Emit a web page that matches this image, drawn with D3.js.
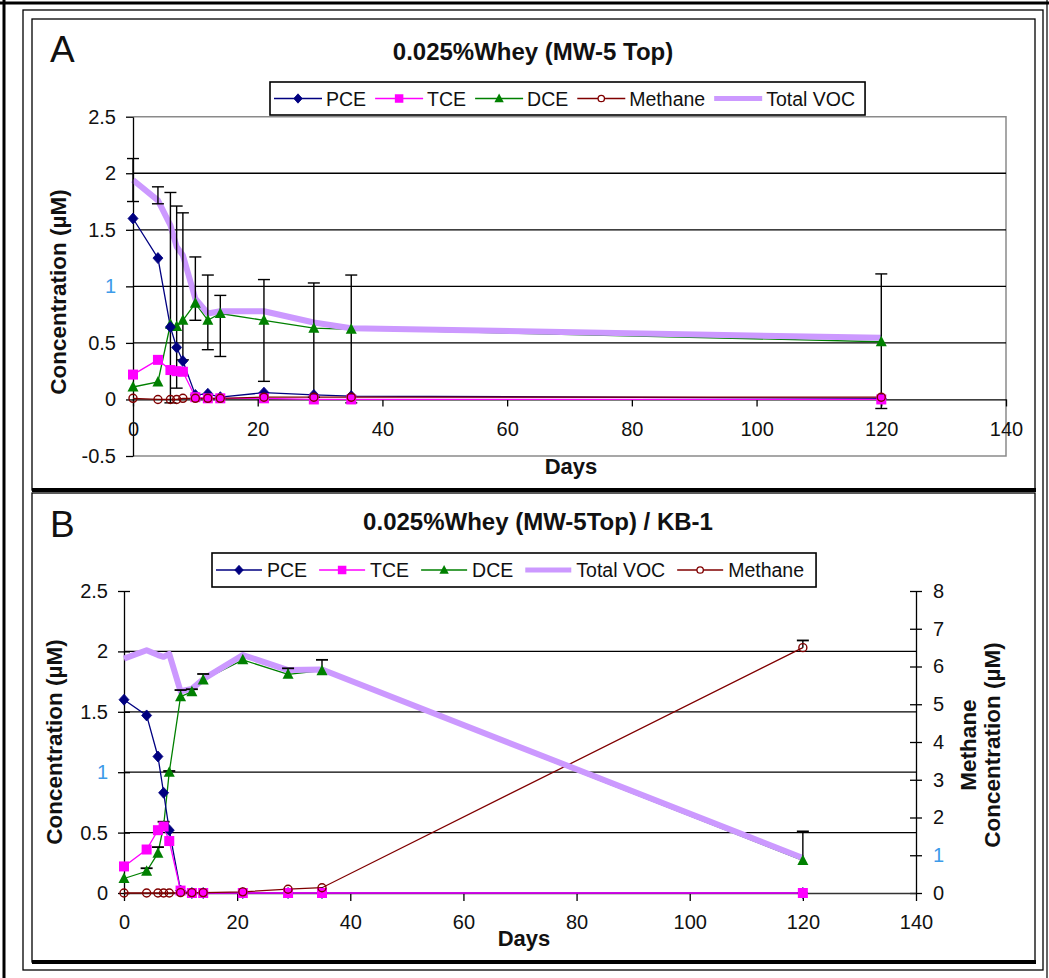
<!DOCTYPE html>
<html><head><meta charset="utf-8">
<script src="https://cdn.jsdelivr.net/npm/d3@7/dist/d3.min.js"></script>
<style>
html,body{margin:0;padding:0;background:#fff;}
svg{display:block;}
text{font-family:"Liberation Sans",Arial,Helvetica,sans-serif;fill:#111;}
</style></head><body>
<svg id="chart" width="1049" height="978"></svg>
<script>
// ---------------- data ----------------
const days = [0,4,6,7,8,10,12,14,21,29,35,120];
const xTicks = [0,20,40,60,80,100,120,140];
const yTicksA = [-0.5,0,0.5,1,1.5,2,2.5];
const yTicksB = [0,0.5,1,1.5,2,2.5];
const yTicksMethane = [0,1,2,3,4,5,6,7,8];
const gridLevels = [0.5,1,1.5,2];

// Panel A : 0.025% Whey (MW-5 Top)
const pceA     = [1.60,1.25,0.64,0.46,0.34,0.04,0.05,0.02,0.06,0.04,0.03,0.01];
const tceA     = [0.22,0.35,0.26,0.25,0.245,0.02,0.01,0.01,0.01,0.00,0.00,0.00];
const dceA     = [0.11,0.155,0.665,0.645,0.70,0.85,0.70,0.76,0.70,0.63,0.62,0.51];
const methaneA = [0.01,0.00,0.00,0.00,0.01,0.01,0.01,0.01,0.02,0.02,0.02,0.02];
const vocA     = [1.94,1.76,1.54,1.35,1.275,0.89,0.76,0.78,0.78,0.68,0.63,0.545];
const errLowA  = [1.75,1.73,-0.03,0.10,0.35,0.70,0.44,0.38,0.16,0.02,-0.03,-0.08];
const errHighA = [2.13,1.88,1.83,1.71,1.65,1.26,1.10,0.92,1.06,1.03,1.10,1.11];

// Panel B : 0.025% Whey (MW-5Top) / KB-1
const pceB       = [1.60,1.47,1.13,0.83,0.52,0.02,0,0,0,0,0,0];
const tceB       = [0.22,0.36,0.52,0.55,0.43,0.02,0,0,0,0,0,0];
const dceB       = [0.12,0.18,0.33,0.555,1.00,1.625,1.667,1.763,1.93,1.81,1.84,0.27];
const dceErrB    = [0,0.025,0.05,0.035,0.01,0.055,0.02,0.05,0,0.05,0.09,0.24];
const vocB       = [1.94,2.01,1.97,1.955,1.98,1.67,1.69,1.77,1.97,1.845,1.85,0.29];
const methaneB   = [0,0,0,0,0,0.01,0.01,0.01,0.03,0.10,0.14,6.5];
const methaneErrB= [0,0,0,0,0,0,0,0,0,0,0,0.19];

const legendA = ["PCE","TCE","DCE","Methane","Total VOC"];
const legendB = ["PCE","TCE","DCE","Total VOC","Methane"];
const titleA = "0.025%Whey (MW-5 Top)";
const titleB = "0.025%Whey (MW-5Top) / KB-1";
const yTitle = "Concentration (\u00B5M)";
const yTitleR = ["Methane","Concentration (\u00B5M)"];
const xTitle = "Days";

const colors = {"PCE":"#000080","TCE":"#FF00FF","DCE":"#008000","Methane":"#800000","Total VOC":"#CC99FF"};

// ---------------- helpers ----------------
const svg = d3.select("#chart");

function drawMarker(g, name, cx, cy, s){
  s = s || 1;
  const c = colors[name];
  if(name==="PCE"){
    g.append("path").attr("d",`M${cx},${cy-5.5*s}L${cx+5*s},${cy}L${cx},${cy+5.5*s}L${cx-5*s},${cy}Z`).attr("fill",c).attr("stroke",c).attr("stroke-width",0.8);
  } else if(name==="TCE"){
    g.append("rect").attr("x",cx-5*s).attr("y",cy-5*s).attr("width",10*s).attr("height",10*s).attr("fill",c);
  } else if(name==="DCE"){
    g.append("path").attr("d",`M${cx},${cy-6*s}L${cx+5.5*s},${cy+4.5*s}L${cx-5.5*s},${cy+4.5*s}Z`).attr("fill",c);
  } else if(name==="Methane"){
    g.append("circle").attr("cx",cx).attr("cy",cy).attr("r",4*s).attr("fill","none").attr("stroke",c).attr("stroke-width",1.4);
  }
}

function legend(items, x0, yBox, hBox, gapText, gapItem, sampleLen, padRight){
  const g = svg.append("g");
  const box = g.append("rect").attr("y",yBox).attr("height",hBox).attr("fill","#fff").attr("stroke","#000").attr("stroke-width",1.6);
  let x = x0;
  const cy = yBox + hBox/2;
  items.forEach(name=>{
    const c = colors[name];
    if(name==="Total VOC"){
      g.append("line").attr("x1",x).attr("x2",x+sampleLen).attr("y1",cy).attr("y2",cy).attr("stroke",c).attr("stroke-width",5);
    } else {
      g.append("line").attr("x1",x).attr("x2",x+sampleLen).attr("y1",cy).attr("y2",cy).attr("stroke",c).attr("stroke-width",1.5);
      if(name==="Methane"){
        g.append("circle").attr("cx",x+sampleLen/2).attr("cy",cy).attr("r",3.2).attr("fill","#fff").attr("stroke",c).attr("stroke-width",1.3);
      } else drawMarker(g,name,x+sampleLen/2,cy,0.85);
    }
    x += sampleLen + gapText;
    const t = g.append("text").attr("x",x).attr("y",cy+7).attr("font-size",19.5).text(name);
    x += t.node().getComputedTextLength() + gapItem;
  });
  box.attr("x",x0-4).attr("width",(x - gapItem + padRight) - (x0-4));
}

// ---------------- frames ----------------
svg.append("rect").attr("x",0).attr("y",0).attr("width",1049).attr("height",978).attr("fill","#fff");
svg.append("line").attr("x1",0).attr("x2",1049).attr("y1",3).attr("y2",3).attr("stroke","#000").attr("stroke-width",3);
svg.append("line").attr("x1",4).attr("x2",4).attr("y1",0).attr("y2",978).attr("stroke","#000").attr("stroke-width",3);
svg.append("line").attr("x1",1047).attr("x2",1047).attr("y1",0).attr("y2",978).attr("stroke","#000").attr("stroke-width",1.2);
svg.append("rect").attr("x",23).attr("y",10).attr("width",1020).attr("height",960).attr("fill","none").attr("stroke","#000").attr("stroke-width",1.3);
[[19,490],[493,962]].forEach(([t,b])=>{
  svg.append("rect").attr("x",32).attr("y",t).attr("width",1003).attr("height",b-t).attr("fill","#fff").attr("stroke","#000").attr("stroke-width",1.3);
  svg.append("line").attr("x1",32).attr("x2",1036).attr("y1",b).attr("y2",b).attr("stroke","#000").attr("stroke-width",4);
});

// ---------------- Panel A ----------------
(function(){
  const x = d3.scaleLinear().domain([0,140]).range([133,1006]);
  const y = d3.scaleLinear().domain([-0.5,2.5]).range([456,116.7]);
  const g = svg.append("g");
  g.append("path").attr("d",`M${x(0)},${y(2.5)}H${x(140)}V${y(-0.5)}H${x(0)}`).attr("fill","none").attr("stroke","#8a8a8a").attr("stroke-width",1.5);
  g.selectAll(".grid").data(gridLevels).join("line").attr("x1",x(0)).attr("x2",x(140))
    .attr("y1",d=>y(d)).attr("y2",d=>y(d)).attr("stroke","#000").attr("stroke-width",1.3);
  const ya = g.append("g").attr("transform",`translate(${x(0)},0)`)
    .call(d3.axisLeft(y).tickValues(yTicksA).tickFormat(d=>String(d)).tickSizeInner(7).tickSizeOuter(0).tickPadding(10));
  ya.select(".domain").attr("stroke","#000").attr("stroke-width",1.3);
  ya.selectAll(".tick line").attr("stroke","#000").attr("stroke-width",1.3);
  ya.selectAll(".tick text").attr("font-size",20).attr("font-family",null).style("fill",d=>d===1?"#3d9be9":"#111");
  const xa = g.append("g").attr("transform",`translate(0,${y(0)})`)
    .call(d3.axisBottom(x).tickValues(xTicks).tickFormat(d=>String(d)).tickSizeInner(7).tickSizeOuter(0).tickPadding(15));
  xa.select(".domain").attr("stroke","#000").attr("stroke-width",1.3);
  xa.selectAll(".tick line").attr("stroke","#000").attr("stroke-width",1.3);
  xa.selectAll(".tick text").attr("font-size",20).attr("font-family",null);

  const line = d3.line().x(p=>x(p.d)).y(p=>y(p.v));
  const mk = vals => days.map((d,i)=>({d, v: vals[i]}));
  const data = {"PCE":mk(pceA),"TCE":mk(tceA),"DCE":mk(dceA),"Methane":mk(methaneA)};
  ["DCE","PCE","TCE","Methane"].forEach(n=>{
    g.append("path").attr("d",line(data[n])).attr("fill","none").attr("stroke",colors[n]).attr("stroke-width",1.3);
  });
  g.append("path").attr("d",line(mk(vocA))).attr("fill","none").attr("stroke",colors["Total VOC"]).attr("stroke-width",6).attr("stroke-linejoin","round");
  days.forEach((d,i)=>{
    const cx = x(d);
    g.append("line").attr("x1",cx).attr("x2",cx).attr("y1",y(errLowA[i])).attr("y2",y(errHighA[i])).attr("stroke","#000").attr("stroke-width",1.4);
    [errLowA[i],errHighA[i]].forEach(v=>{
      g.append("line").attr("x1",cx-6).attr("x2",cx+6).attr("y1",y(v)).attr("y2",y(v)).attr("stroke","#000").attr("stroke-width",1.4);
    });
  });
  ["DCE","PCE","TCE","Methane"].forEach(n=>{
    data[n].forEach(p=>drawMarker(g,n,x(p.d),y(p.v)));
  });
  svg.append("text").attr("x",50).attr("y",62).attr("font-size",37).text("A");
  svg.append("text").attr("x",533).attr("y",60).attr("text-anchor","middle").attr("font-size",24).attr("font-weight","bold").text(titleA);
  svg.append("text").attr("x",571).attr("y",474).attr("text-anchor","middle").attr("font-size",22).attr("font-weight","bold").text(xTitle);
  svg.append("text").attr("transform","translate(66,292) rotate(-90)").attr("text-anchor","middle").attr("font-size",22.5).attr("font-weight","bold").text(yTitle);
  legend(legendA, 274, 82, 33, 4, 9, 48, 10);
})();

// ---------------- Panel B ----------------
(function(){
  const x = d3.scaleLinear().domain([0,140]).range([124,916]);
  const y = d3.scaleLinear().domain([0,2.5]).range([893,591]);
  const yR = d3.scaleLinear().domain([0,8]).range([893,591]);
  const g = svg.append("g");
  g.selectAll(".grid").data(gridLevels).join("line").attr("x1",x(0)).attr("x2",x(140))
    .attr("y1",d=>y(d)).attr("y2",d=>y(d)).attr("stroke","#000").attr("stroke-width",1.3);
  const ya = g.append("g").attr("transform",`translate(${x(0)},0)`)
    .call(d3.axisLeft(y).tickValues(yTicksB).tickFormat(d=>String(d)).tickSizeInner(6).tickSizeOuter(0).tickPadding(10));
  ya.select(".domain").attr("stroke","#000").attr("stroke-width",1.3);
  ya.selectAll(".tick line").attr("x2",-6).attr("x1",6).attr("stroke","#000").attr("stroke-width",1.3);
  ya.selectAll(".tick text").attr("font-size",20).attr("font-family",null).style("fill",d=>d===1?"#3d9be9":"#111");
  const yr = g.append("g").attr("transform",`translate(${x(140)},0)`)
    .call(d3.axisRight(yR).tickValues(yTicksMethane).tickFormat(d=>String(d)).tickSizeInner(6).tickSizeOuter(0).tickPadding(11));
  yr.select(".domain").attr("stroke","#000").attr("stroke-width",1.3);
  yr.selectAll(".tick line").attr("x1",-6).attr("x2",6).attr("stroke","#000").attr("stroke-width",1.3);
  yr.selectAll(".tick text").attr("font-size",20).attr("font-family",null).style("fill",d=>d===1?"#3d9be9":"#111");
  const xa = g.append("g").attr("transform",`translate(0,${y(0)})`)
    .call(d3.axisBottom(x).tickValues(xTicks).tickFormat(d=>String(d)).tickSizeInner(8).tickSizeOuter(0).tickPadding(14));
  xa.select(".domain").attr("stroke","#333").attr("stroke-width",1.6);
  xa.selectAll(".tick line").attr("stroke","#000").attr("stroke-width",1.3);
  xa.selectAll(".tick text").attr("font-size",20).attr("font-family",null);

  const mk = vals => days.map((d,i)=>({d, v: vals[i]}));
  const line = d3.line().x(p=>x(p.d)).y(p=>y(p.v));
  const lineR = d3.line().x(p=>x(p.d)).y(p=>yR(p.v));
  const data = {"PCE":mk(pceB),"TCE":mk(tceB),"DCE":mk(dceB)};
  ["DCE","PCE","TCE"].forEach(n=>{
    g.append("path").attr("d",line(data[n])).attr("fill","none").attr("stroke",colors[n]).attr("stroke-width",1.3);
  });
  g.append("path").attr("d",lineR(mk(methaneB))).attr("fill","none").attr("stroke",colors["Methane"]).attr("stroke-width",1.3);
  g.append("path").attr("d",line(mk(vocB))).attr("fill","none").attr("stroke",colors["Total VOC"]).attr("stroke-width",6).attr("stroke-linejoin","round");
  days.forEach((d,i)=>{
    const cx = x(d);
    if(dceErrB[i]>0){
      g.append("line").attr("x1",cx).attr("x2",cx).attr("y1",y(dceB[i])).attr("y2",y(dceB[i]+dceErrB[i])).attr("stroke","#000").attr("stroke-width",1.4);
      g.append("line").attr("x1",cx-6).attr("x2",cx+6).attr("y1",y(dceB[i]+dceErrB[i])).attr("y2",y(dceB[i]+dceErrB[i])).attr("stroke","#000").attr("stroke-width",1.8);
    }
    if(methaneErrB[i]>0){
      g.append("line").attr("x1",cx).attr("x2",cx).attr("y1",yR(methaneB[i])).attr("y2",yR(methaneB[i]+methaneErrB[i])).attr("stroke","#000").attr("stroke-width",1.4);
      g.append("line").attr("x1",cx-6).attr("x2",cx+6).attr("y1",yR(methaneB[i]+methaneErrB[i])).attr("y2",yR(methaneB[i]+methaneErrB[i])).attr("stroke","#000").attr("stroke-width",1.8);
    }
  });
  ["DCE","PCE","TCE"].forEach(n=>{
    data[n].forEach(p=>drawMarker(g,n,x(p.d),y(p.v)));
  });
  mk(methaneB).forEach(p=>drawMarker(g,"Methane",x(p.d),yR(p.v)));
  svg.append("text").attr("x",50).attr("y",537).attr("font-size",37).text("B");
  svg.append("text").attr("x",538).attr("y",530).attr("text-anchor","middle").attr("font-size",24).attr("font-weight","bold").text(titleB);
  svg.append("text").attr("x",524).attr("y",946).attr("text-anchor","middle").attr("font-size",22).attr("font-weight","bold").text(xTitle);
  svg.append("text").attr("transform","translate(62,742) rotate(-90)").attr("text-anchor","middle").attr("font-size",22.5).attr("font-weight","bold").text(yTitle);
  svg.append("text").attr("transform","translate(976,745) rotate(-90)").attr("text-anchor","middle").attr("font-size",22.5).attr("font-weight","bold").text(yTitleR[0]);
  svg.append("text").attr("transform","translate(1000,745) rotate(-90)").attr("text-anchor","middle").attr("font-size",22.5).attr("font-weight","bold").text(yTitleR[1]);
  legend(legendB, 216, 553, 34, 5, 12, 46, 12);
})();
</script>
</body></html>
